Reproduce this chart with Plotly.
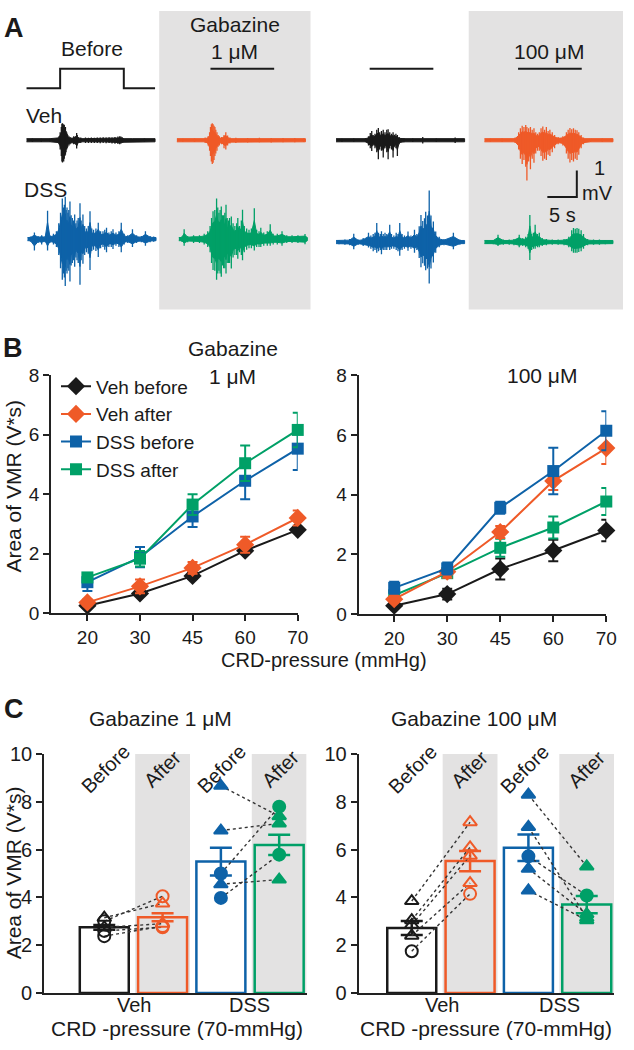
import plotly.graph_objects as go

W, H = 634, 1050
FONT = "Liberation Sans, Arial, sans-serif"
INK = "#1a1a1a"
BLACK, ORANGE, BLUE, GREEN = "#1a1a1a", "#ef5a28", "#0e62a8", "#00a067"
GRAY = "#e3e2e2"

# ---------------- Panel A data (EMG spikes: time s, up mV, down mV) ----------------
TRACE_LEN_S = 21.8
BASE_NOISE_MV = 0.06
STIM_T = [0, 5.7, 5.7, 16.5, 16.5, 21.8]
STIM_LEVEL = [0, 0, 1, 1, 0, 0]

VEH_BEFORE_1UM = [(1.0,.07,.07),(2.5,.06,.07),(4.0,.07,.06),(5.5,.15,.15),(5.7,.3,.35),(5.9,.5,.6),(6.0,.62,.8),
    (6.1,.64,.84),(6.2,.55,.75),(6.3,.6,.8),(6.4,.58,.7),(6.5,.45,.6),(6.6,.5,.55),(6.7,.35,.45),(6.8,.3,.35),
    (6.9,.25,.3),(7.0,.2,.25),(7.2,.15,.2),(7.4,.12,.15),(7.7,.1,.12),(8.0,.15,.15),(8.5,.27,.31),(8.6,.2,.2),
    (9.2,.1,.1),(10,.1,.1),(10.5,.09,.1),(11,.1,.1),(11.5,.09,.1),(12,.1,.1),(12.5,.1,.11),(13,.11,.1),
    (13.5,.1,.11),(14,.11,.1),(14.5,.1,.12),(15,.12,.13),(15.5,.14,.14),(15.8,.15,.15),(16.0,.14,.13),
    (16.2,.12,.1),(16.4,.08,.08),(18,.06,.06),(20,.07,.06)]
VEH_AFTER_1UM = [(1,.06,.06),(3,.07,.07),(4.8,.1,.1),(5.3,.15,.2),(5.55,.3,.4),(5.7,.5,.6),(5.85,.6,.8),(6.0,.64,.9),
    (6.15,.6,.85),(6.3,.55,.75),(6.45,.5,.6),(6.6,.4,.5),(6.8,.3,.4),(7.0,.2,.25),(7.2,.15,.2),(7.6,.12,.15),
    (8.0,.2,.3),(8.3,.3,.35),(8.6,.18,.2),(9.0,.1,.12),(10,.09,.1),(12,.08,.09),(14,.09,.08),(16,.08,.09),
    (18,.08,.08),(20,.08,.08),(21.5,.07,.07)]
VEH_BEFORE_100UM = [(1,.06,.07),(3,.07,.06),(5.0,.08,.08),(5.5,.15,.2),(5.8,.27,.3),(6.05,.35,.41),(6.3,.2,.2),
    (6.6,.25,.3),(6.9,.4,.45),(7.17,.46,.72),(7.4,.3,.35),(7.7,.35,.4),(8.0,.4,.65),(8.3,.3,.3),(8.6,.4,.45),
    (8.83,.42,.72),(9.1,.3,.3),(9.4,.25,.35),(9.67,.3,.65),(9.9,.21,.25),(10.15,.25,.3),(10.4,.2,.6),
    (10.7,.12,.15),(11.5,.08,.08),(13,.07,.07),(14.7,.12,.12),(17,.07,.07),(20.2,.1,.1)]
VEH_AFTER_100UM = [(1,.06,.06),(3,.07,.07),(5.2,.1,.1),(5.8,.3,.35),(6.1,.45,.7),(6.4,.55,.9),(6.7,.5,.75),
    (7.0,.58,1.0),(7.2,.5,1.52),(7.5,.45,.8),(7.8,.5,1.1),(8.1,.4,.7),(8.4,.45,.85),(8.7,.3,.5),(9.0,.25,.4),
    (9.3,.3,.4),(9.6,.45,.6),(9.9,.52,.78),(10.2,.4,.7),(10.5,.5,.75),(10.8,.35,.55),(11.1,.4,.6),(11.5,.3,.45),
    (11.9,.2,.3),(12.5,.12,.15),(13.3,.15,.2),(13.9,.3,.5),(14.2,.4,.7),(14.5,.46,.84),(14.8,.42,.75),
    (15.1,.45,.8),(15.4,.4,.7),(15.7,.38,.75),(16.0,.3,.55),(16.4,.2,.3),(16.8,.1,.15),(18,.07,.07),
    (20,.07,.07),(21.5,.06,.06)]
DSS_BEFORE_1UM = [(0.5,.1,.1),(1.17,.25,.43),(1.8,.12,.15),(2.4,.15,.2),(3.0,.12,.12),(3.4,1.07,.43),(3.8,.15,.15),
    (4.4,.2,.2),(4.9,.3,.3),(5.3,.6,.6),(5.6,1.0,1.1),(5.9,1.54,1.54),(6.1,1.2,1.3),(6.25,1.3,1.45),(6.4,1.6,1.77),
    (6.55,1.1,1.2),(6.7,1.2,1.3),(6.85,1.0,1.1),(7.0,1.1,1.2),(7.2,1.42,1.6),(7.4,0.9,1.0),(7.6,0.8,0.9),
    (7.8,0.7,0.8),(8.0,0.93,1.05),(8.2,0.6,0.7),(8.4,0.7,0.8),(8.6,0.8,0.9),(8.9,1.36,1.73),(9.1,0.7,0.8),
    (9.4,0.93,0.93),(9.7,0.5,0.6),(10.0,0.4,0.5),(10.3,0.5,0.55),(10.6,1.05,1.17),(10.9,0.4,0.45),(11.2,0.35,0.4),
    (11.6,0.4,0.45),(12.0,0.62,0.68),(12.4,0.3,0.35),(12.8,0.3,0.3),(13.1,0.35,0.4),(13.4,0.43,0.5),
    (13.8,0.25,0.3),(14.2,0.3,0.3),(14.5,0.37,0.37),(15.0,0.25,0.25),(15.5,0.3,0.3),(15.9,0.62,0.5),
    (16.4,0.2,0.2),(17.0,0.15,0.15),(17.8,0.37,0.3),(18.5,0.15,0.15),(19.3,0.12,0.12),(20.0,0.3,0.25),
    (20.8,0.12,0.12),(21.4,.1,.1)]
DSS_AFTER_1UM = [(0.5,.1,.1),(0.9,.37,.25),(1.5,.12,.12),(2.5,.15,.15),(3.5,.15,.15),(4.3,.2,.2),(4.9,.3,.3),
    (5.3,.5,.5),(5.55,.8,.9),(5.8,1.05,1.17),(6.1,1.1,1.2),(6.4,1.54,1.54),(6.6,1.2,1.3),(6.8,1.0,1.2),
    (7.0,1.1,1.3),(7.2,1.23,1.42),(7.4,0.9,1.0),(7.6,0.9,1.1),(7.8,1.0,1.1),(8.0,1.3,1.3),(8.2,0.8,0.9),
    (8.4,0.7,0.9),(8.6,0.8,0.9),(8.9,0.86,1.11),(9.2,0.6,0.7),(9.5,0.5,0.6),(9.8,0.6,0.6),(10.0,0.8,0.74),
    (10.3,0.5,0.5),(10.6,0.7,0.6),(10.8,1.11,0.8),(11.1,0.5,0.5),(11.5,0.4,0.4),(11.9,0.35,0.35),(12.3,0.4,0.35),
    (12.8,1.17,0.43),(13.2,0.35,0.3),(13.6,0.3,0.3),(13.9,0.43,0.3),(14.4,0.25,0.25),(15.0,0.3,0.25),
    (15.5,0.56,0.25),(16.0,0.2,0.2),(16.7,0.2,0.2),(17.5,0.3,0.25),(18.3,0.15,0.15),(19.2,0.15,0.15),
    (20.2,0.15,0.15),(21.4,0.19,0.19)]
DSS_BEFORE_100UM = [(0.5,.08,.08),(1.5,.1,.1),(2.3,.12,.12),(3.0,.31,.27),(3.8,.1,.1),(4.6,.15,.15),(5.5,.35,.21),
    (5.9,.25,.25),(6.3,.3,.35),(6.6,.35,.3),(6.9,.72,.4),(7.2,.35,.35),(7.5,.3,.3),(7.7,.41,.46),(8.0,.3,.3),
    (8.3,.35,.3),(8.6,.3,.3),(9.1,.65,.3),(9.4,.3,.25),(9.8,.25,.25),(10.2,.35,.3),(10.5,.3,.35),(10.8,.72,.52),
    (11.2,.3,.3),(11.6,.25,.25),(12.2,.4,.33),(12.7,.25,.25),(13.3,.47,.4),(13.7,.3,.3),(14.1,.6,.6),
    (14.4,1.02,.95),(14.7,.8,.8),(15.0,.9,.9),(15.2,1.15,1.07),(15.5,1.0,1.0),(15.8,1.95,1.57),(16.1,1.0,1.0),
    (16.5,.78,.77),(16.9,.4,.4),(17.5,.2,.2),(18.3,.12,.12),(19.9,.35,.27),(21,.1,.1)]
DSS_AFTER_100UM = [(0.5,.07,.07),(1.5,.08,.08),(2.3,.28,.15),(3.2,.1,.1),(4.2,.1,.1),(5.0,.12,.12),(5.9,.28,.2),
    (6.5,.15,.15),(7.0,.2,.2),(7.4,.3,.25),(7.7,1.02,.68),(8.0,.3,.3),(8.3,.35,.25),(8.6,.65,.25),(9.0,.3,.2),
    (9.3,.35,.2),(9.8,.15,.15),(10.5,.12,.12),(11.5,.1,.1),(12.5,.1,.1),(13.5,.12,.12),(14.3,.2,.2),
    (14.8,.45,.35),(15.1,.53,.4),(15.4,.5,.4),(15.7,.53,.4),(16.0,.5,.38),(16.4,.45,.35),(16.8,.3,.25),
    (17.5,.12,.12),(18.5,.1,.1),(19.5,.1,.1),(20.5,.08,.08),(21.4,.07,.07)]

# ---------------- Panel B data ----------------
PRESSURE = ["20", "30", "45", "60", "70"]
B_SERIES = ["Veh before", "Veh after", "DSS before", "DSS after"]
B1_VEH_BEFORE = [0.25, 0.66, 1.25, 2.1, 2.8]
B1_VEH_BEFORE_ERR = [0.08, 0.08, 0.1, 0.1, 0.1]
B1_VEH_AFTER = [0.36, 0.9, 1.52, 2.3, 3.2]
B1_VEH_AFTER_ERR = [0.1, 0.23, 0.2, 0.27, 0.25]
B1_DSS_BEFORE = [1.04, 1.88, 3.25, 4.45, 5.53]
B1_DSS_BEFORE_ERR = [0.3, 0.34, 0.35, 0.62, 0.72]
B1_DSS_AFTER = [1.2, 1.83, 3.65, 5.04, 6.16]
B1_DSS_AFTER_ERR = [0.15, 0.26, 0.35, 0.6, 0.58]

B100_VEH_BEFORE = [0.28, 0.67, 1.51, 2.13, 2.8]
B100_VEH_BEFORE_ERR = [0.08, 0.18, 0.35, 0.36, 0.36]
B100_VEH_AFTER = [0.5, 1.42, 2.75, 4.46, 5.56]
B100_VEH_AFTER_ERR = [0.1, 0.2, 0.2, 0.3, 0.53]
B100_DSS_BEFORE = [0.88, 1.53, 3.56, 4.79, 6.14]
B100_DSS_BEFORE_ERR = [0.2, 0.2, 0.2, 0.78, 0.65]
B100_DSS_AFTER = [0.63, 1.37, 2.22, 2.9, 3.77]
B100_DSS_AFTER_ERR = [0.15, 0.15, 0.3, 0.37, 0.45]

# ---------------- Panel C data ----------------
C_GROUP_TICKS = ["Veh", "DSS"]
C_COLUMN_LABELS = ["Before", "After", "Before", "After"]
C1_MEANS = [2.75, 3.17, 5.5, 6.2]
C1_SEM = [0.1, 0.17, 0.58, 0.42]
C100_MEANS = [2.72, 5.52, 6.08, 3.7]
C100_SEM = [0.29, 0.42, 0.55, 0.36]

C1_VEH_BEFORE = [3.15, 3.0, 2.75, 2.6, 2.38]
C1_VEH_AFTER = [3.75, 4.05, 2.9, 2.75, 2.8]
C1_VEH_SHAPE = ["triangle-up", "circle", "triangle-up", "circle", "circle"]
C1_DSS_BEFORE = [8.67, 6.8, 5.0, 4.55, 3.98]
C1_DSS_AFTER = [7.4, 7.1, 7.8, 4.75, 5.79]
C1_DSS_SHAPE = ["triangle-up", "triangle-up", "circle", "triangle-up", "circle"]

C100_VEH_BEFORE = [3.85, 3.05, 2.85, 2.4, 1.75]
C100_VEH_AFTER = [7.15, 6.1, 5.75, 4.6, 4.15]
C100_VEH_SHAPE = ["triangle-up", "triangle-up", "triangle-up", "triangle-up", "circle"]
C100_DSS_BEFORE = [8.3, 6.95, 5.72, 5.2, 4.29]
C100_DSS_AFTER = [5.3, 3.15, 4.08, 3.3, 3.05]
C100_DSS_SHAPE = ["triangle-up", "triangle-up", "circle", "triangle-up", "triangle-up"]

# ---------------- layout helpers ----------------
SEC_PX, MV_PX = 6.0, 27.0   # panel A scale (5 s = 30 px, 1 mV = 27 px)
CORE_FRACTION = 0.6         # dense core of each burst relative to its spikes


def dom_x(a, b):
    return [a / W, b / W]


def dom_y(top, bottom):
    return [1 - bottom / H, 1 - top / H]


fig = go.Figure()
annotations = []
shapes = []


def ann(text, x, y, size=21, angle=0, bold=False, xanchor="center", yanchor="middle"):
    annotations.append(dict(
        text=f"<b>{text}</b>" if bold else text, x=x / W, y=1 - y / H, xref="paper", yref="paper",
        showarrow=False, textangle=angle, xanchor=xanchor, yanchor=yanchor,
        font=dict(size=size, family=FONT, color=INK)))


# ---------------- Panel A ----------------
for x0, x1 in [(162, 316), (477, 634)]:
    shapes.append(dict(type="rect", xref="paper", yref="paper", x0=x0 / W, x1=x1 / W,
                       y0=1 - 305 / H, y1=1, fillcolor=GRAY, line=dict(width=0), layer="below"))

A_TRACES = [
    (VEH_BEFORE_1UM, 27, 132, BLACK), (VEH_AFTER_1UM, 180, 132, ORANGE),
    (VEH_BEFORE_100UM, 342, 132, BLACK), (VEH_AFTER_100UM, 493, 132, ORANGE),
    (DSS_BEFORE_1UM, 28, 233, BLUE), (DSS_AFTER_1UM, 182, 233, GREEN),
    (DSS_BEFORE_100UM, 342, 236, BLUE), (DSS_AFTER_100UM, 493, 236, GREEN),
]
for spikes, x0, base, col in A_TRACES:
    pts = [(0.0, BASE_NOISE_MV, BASE_NOISE_MV)] + sorted(spikes) + [(TRACE_LEN_S, BASE_NOISE_MV, BASE_NOISE_MV)]
    up_x = [x0 + t * SEC_PX for t, _, _ in pts]
    up_y = [base - max(u * CORE_FRACTION, BASE_NOISE_MV) * MV_PX for _, u, _ in pts]
    dn_y = [base + max(d * CORE_FRACTION, BASE_NOISE_MV) * MV_PX for _, _, d in pts]
    fig.add_trace(go.Scatter(x=up_x + up_x[::-1], y=up_y + dn_y[::-1], mode="lines", fill="toself",
                             fillcolor=col, line=dict(color=col, width=1),
                             xaxis="x", yaxis="y", showlegend=False, hoverinfo="skip"))
    xs, ys = [], []
    for t, up, dn in spikes:
        xs += [x0 + t * SEC_PX, x0 + t * SEC_PX, None]
        ys += [base - up * MV_PX, base + dn * MV_PX, None]
    fig.add_trace(go.Scatter(x=xs, y=ys, mode="lines", line=dict(color=col, width=1.3),
                             xaxis="x", yaxis="y", showlegend=False, hoverinfo="skip"))

# stimulus trace
STIM_X0, STIM_BASE, STIM_PX = 27, 79, 20
fig.add_trace(go.Scatter(x=[STIM_X0 + t * SEC_PX for t in STIM_T],
                         y=[STIM_BASE - v * STIM_PX for v in STIM_LEVEL], mode="lines",
                         line=dict(color=BLACK, width=2), xaxis="x", yaxis="y",
                         showlegend=False, hoverinfo="skip"))
# stimulus bars for the other columns
for x0 in [180, 342, 493]:
    fig.add_trace(go.Scatter(x=[x0 + STIM_T[1] * SEC_PX, x0 + STIM_T[3] * SEC_PX], y=[59, 59],
                             mode="lines", line=dict(color=BLACK, width=2), xaxis="x", yaxis="y",
                             showlegend=False, hoverinfo="skip"))
# scale bar 5 s / 1 mV
SB_X, SB_Y = 587, 190
fig.add_trace(go.Scatter(x=[SB_X - 5 * SEC_PX, SB_X, SB_X], y=[SB_Y, SB_Y, SB_Y - 1 * MV_PX], mode="lines",
                         line=dict(color=BLACK, width=2), xaxis="x", yaxis="y",
                         showlegend=False, hoverinfo="skip"))

ann("A", 14, 17, size=27, bold=True)
ann("Before", 94, 38)
ann("Gabazine", 239, 14)
ann("1 μM", 239, 41)
ann("100 μM", 559, 41)
ann("Veh", 45, 107)
ann("DSS", 46, 182)
ann("1", 610, 160, size=20)
ann("mV", 608, 186, size=20)
ann("5 s", 572, 208, size=20)

# ---------------- Panel B ----------------
idx = list(range(len(PRESSURE)))
B_STYLE = [(BLACK, "diamond", 14), (ORANGE, "diamond", 14), (BLUE, "square", 12), (GREEN, "square", 12)]
B_LEFT = [(B1_VEH_BEFORE, B1_VEH_BEFORE_ERR), (B1_VEH_AFTER, B1_VEH_AFTER_ERR),
          (B1_DSS_BEFORE, B1_DSS_BEFORE_ERR), (B1_DSS_AFTER, B1_DSS_AFTER_ERR)]
B_RIGHT = [(B100_VEH_BEFORE, B100_VEH_BEFORE_ERR), (B100_VEH_AFTER, B100_VEH_AFTER_ERR),
           (B100_DSS_BEFORE, B100_DSS_BEFORE_ERR), (B100_DSS_AFTER, B100_DSS_AFTER_ERR)]
right_order = [0, 3, 1, 2]
for ax, data, leg, order in [("2", B_LEFT, True, [0, 1, 2, 3]), ("3", B_RIGHT, False, right_order)]:
    for i in order:
        vals, err = data[i]
        col, sym, sz = B_STYLE[i]
        fig.add_trace(go.Scatter(
            x=idx, y=vals, mode="lines+markers", name=B_SERIES[i], showlegend=leg,
            line=dict(color=col, width=2), marker=dict(symbol=sym, size=sz, color=col),
            error_y=dict(type="data", array=err, color=col, thickness=2, width=5),
            xaxis="x" + ax, yaxis="y" + ax, cliponaxis=False))

ann("Gabazine", 237, 345)
ann("1 μM", 237, 373)
ann("100 μM", 552, 372)
ann("B", 13, 344, size=27, bold=True)
ann("Area of VMR (V*s)", 14, 485, angle=-90)
ann("CRD-pressure (mmHg)", 330, 663, size=20)

# ---------------- Panel C ----------------
C_X = [0, 1, 2, 3]
C_COLORS = [BLACK, ORANGE, BLUE, GREEN]
BAR_W = 0.84
for ax, means, sems, vb, va, vshape, db, da, dshape in [
        ("4", C1_MEANS, C1_SEM, C1_VEH_BEFORE, C1_VEH_AFTER, C1_VEH_SHAPE, C1_DSS_BEFORE, C1_DSS_AFTER, C1_DSS_SHAPE),
        ("5", C100_MEANS, C100_SEM, C100_VEH_BEFORE, C100_VEH_AFTER, C100_VEH_SHAPE, C100_DSS_BEFORE, C100_DSS_AFTER, C100_DSS_SHAPE)]:
    xa, ya = "x" + ax, "y" + ax
    for c in [1, 3]:
        shapes.append(dict(type="rect", xref=xa, yref=ya, x0=C_X[c] - 0.47, x1=C_X[c] + 0.47, y0=0, y1=10,
                           fillcolor=GRAY, line=dict(width=0), layer="below"))
    for c in range(4):
        fig.add_trace(go.Bar(x=[C_X[c]], y=[means[c]], width=BAR_W, xaxis=xa, yaxis=ya, showlegend=False,
                             marker=dict(color="rgba(0,0,0,0)", line=dict(color=C_COLORS[c], width=2.5)),
                             error_y=dict(type="data", array=[sems[c]], color=C_COLORS[c], thickness=2.5, width=11)))
    # paired dotted lines
    lx, ly = [], []
    for b, a in zip(vb, va):
        lx += [C_X[0], C_X[1], None]
        ly += [b, a, None]
    for b, a in zip(db, da):
        lx += [C_X[2], C_X[3], None]
        ly += [b, a, None]
    fig.add_trace(go.Scatter(x=lx, y=ly, mode="lines", line=dict(color="#333333", width=1.4, dash="dot"),
                             xaxis=xa, yaxis=ya, showlegend=False, hoverinfo="skip"))
    # individual points
    for c, vals, shp, opn in [(0, vb, vshape, True), (1, va, vshape, True), (2, db, dshape, False), (3, da, dshape, False)]:
        syms = [s + "-open" if opn else s for s in shp]
        fig.add_trace(go.Scatter(x=[C_X[c]] * len(vals), y=vals, mode="markers", xaxis=xa, yaxis=ya,
                                 showlegend=False, cliponaxis=False,
                                 marker=dict(symbol=syms, size=12, color=C_COLORS[c],
                                             line=dict(color=C_COLORS[c], width=2))))

ann("C", 14, 713, size=27, bold=True)
ann("Gabazine 1 μM", 163, 723)
ann("Gabazine 100 μM", 482, 723)
ann("Area of VMR (V*s)", 14, 880, angle=-90)
for lab, xp in zip(C_GROUP_TICKS, (136, 254)):
    ann(lab, xp, 1015, size=20)
for lab, xp in zip(C_GROUP_TICKS, (450, 569)):
    ann(lab, xp, 1015, size=20)
ann("CRD -pressure (70-mmHg)", 180, 1039)
ann("CRD -pressure (70-mmHg)", 495, 1039)
for xs_px in [(107, 165, 225, 285), (420, 478, 534, 597)]:
    for lab, xp in zip(C_COLUMN_LABELS, xs_px):
        ann(lab, xp, 774, size=20, angle=-45)

# ---------------- axes ----------------
axis_common = dict(showline=True, linecolor="#222222", linewidth=2, ticks="outside", ticklen=6, tickwidth=2,
                   tickcolor="#222222", showgrid=False, zeroline=False,
                   tickfont=dict(size=19, family=FONT, color=INK))
hidden = dict(visible=False, showgrid=False, zeroline=False)
c_y = {**axis_common, "tickfont": dict(size=20, family=FONT, color=INK)}
c_x = {**axis_common, "ticks": "", "showticklabels": False}

layout = dict(
    width=W, height=H, margin=dict(l=0, r=0, t=0, b=0),
    paper_bgcolor="white", plot_bgcolor="rgba(0,0,0,0)",
    font=dict(family=FONT, color=INK), barmode="overlay",
    xaxis=dict(domain=[0, 1], range=[0, W], anchor="y", **hidden),
    yaxis=dict(domain=dom_y(0, 305), range=[305, 0], anchor="x", **hidden),
    xaxis2=dict(domain=dom_x(52, 303), range=[-0.69, 4], anchor="y2", tickvals=idx, ticktext=PRESSURE, **axis_common),
    yaxis2=dict(domain=dom_y(372, 615), range=[0, 8], anchor="x2", tickvals=[0, 2, 4, 6, 8], **axis_common),
    xaxis3=dict(domain=dom_x(365, 617), range=[-0.67, 4], anchor="y3", tickvals=idx, ticktext=PRESSURE, **axis_common),
    yaxis3=dict(domain=dom_y(372, 616), range=[0, 8], anchor="x3", tickvals=[0, 2, 4, 6, 8], **axis_common),
    xaxis4=dict(domain=dom_x(45, 312), range=[-1.03, 3.47], anchor="y4", **c_x),
    yaxis4=dict(domain=dom_y(759, 1003), range=[0, 10], anchor="x4", tickvals=[0, 2, 4, 6, 8, 10], **c_y),
    xaxis5=dict(domain=dom_x(365, 625), range=[-0.91, 3.47], anchor="y5", **c_x),
    yaxis5=dict(domain=dom_y(759, 1003), range=[0, 10], anchor="x5", tickvals=[0, 2, 4, 6, 8, 10], **c_y),
    legend=dict(x=57 / W, y=1 - 364 / H, xanchor="left", yanchor="top", bgcolor="rgba(0,0,0,0)",
                font=dict(size=19, family=FONT, color=INK), itemwidth=30, tracegroupgap=0),
    annotations=annotations, shapes=shapes,
)
fig.update_layout(**layout)
fig.write_html("out.html", config={"displayModeBar": False},
               post_script="document.body.style.margin='0';")
